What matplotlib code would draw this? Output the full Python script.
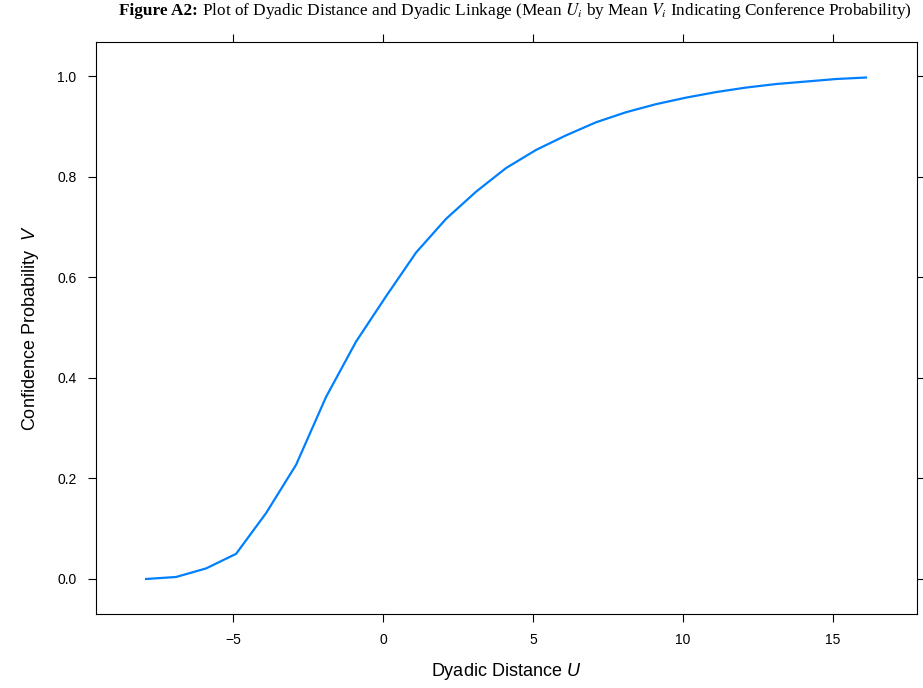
import matplotlib
matplotlib.use('Agg')
import matplotlib.pyplot as plt

# mean dyadic distance U vs mean conference probability V
dist_u = [-7.9, -6.9, -5.9, -4.9, -3.9, -2.9, -1.9, -0.9, 0.1, 1.1, 2.1, 3.1, 4.1,
          5.1, 6.1, 7.1, 8.1, 9.1, 10.1, 11.1, 12.1, 13.1, 14.1, 15.1, 16.1]
prob_v = [0.000, 0.004, 0.021, 0.050, 0.131, 0.227, 0.362, 0.472, 0.562, 0.649, 0.716,
          0.770, 0.817, 0.853, 0.882, 0.908, 0.928, 0.944, 0.957, 0.968, 0.977, 0.984,
          0.989, 0.994, 0.997]
x_ticks = [-5, 0, 5, 10, 15]
y_ticks = [0.0, 0.2, 0.4, 0.6, 0.8, 1.0]

plt.rcParams['font.family'] = ['Liberation Sans', 'DejaVu Sans']
plt.rcParams['mathtext.fontset'] = 'custom'
plt.rcParams['mathtext.it'] = 'Liberation Sans:italic'
plt.rcParams['mathtext.rm'] = 'Liberation Sans'

fig = plt.figure(figsize=(9.23, 6.88), dpi=100)
ax = fig.add_axes([96/923, 74/688, 821/923, 572/688])

ax.plot(dist_u, prob_v, color='#0080ff', linewidth=1.6)

ax.set_xlim(-9.57, 17.8)
ax.set_ylim(-0.0696, 1.0676)
ax.set_xticks(x_ticks)
ax.set_xticklabels([str(t).replace('-', '\u2212') for t in x_ticks])
ax.set_yticks(y_ticks)
ax.set_yticklabels([f'{t:.1f}' for t in y_ticks])
ax.tick_params(direction='out', length=6, width=0.8, labelsize=10, pad=8,
               top=True, right=True, labeltop=False, labelright=False)
for s in ax.spines.values():
    s.set_linewidth(0.8)

ax.set_xlabel('Dyadic Distance $U$', fontsize=13, labelpad=10)
ax.set_ylabel('Confidence Probability  $V$', fontsize=13, labelpad=12)

# title: bold lead-in, then the rest placed right after it
ty = 1 - 11/688
head = fig.text(119/923, ty, 'Figure A2:', ha='left', va='center', fontsize=12.4,
                family='Liberation Serif', weight='bold')
r = fig.canvas.get_renderer()
bb = head.get_window_extent(r)
fig.text((bb.x1 + 4) / 923, ty,
         'Plot of Dyadic Distance and Dyadic Linkage (Mean $U_i$ by Mean $V_i$ Indicating Conference Probability)',
         ha='left', va='center', fontsize=12.4, family='Liberation Serif', math_fontfamily='stix')

fig.savefig('out.png', dpi=100)
